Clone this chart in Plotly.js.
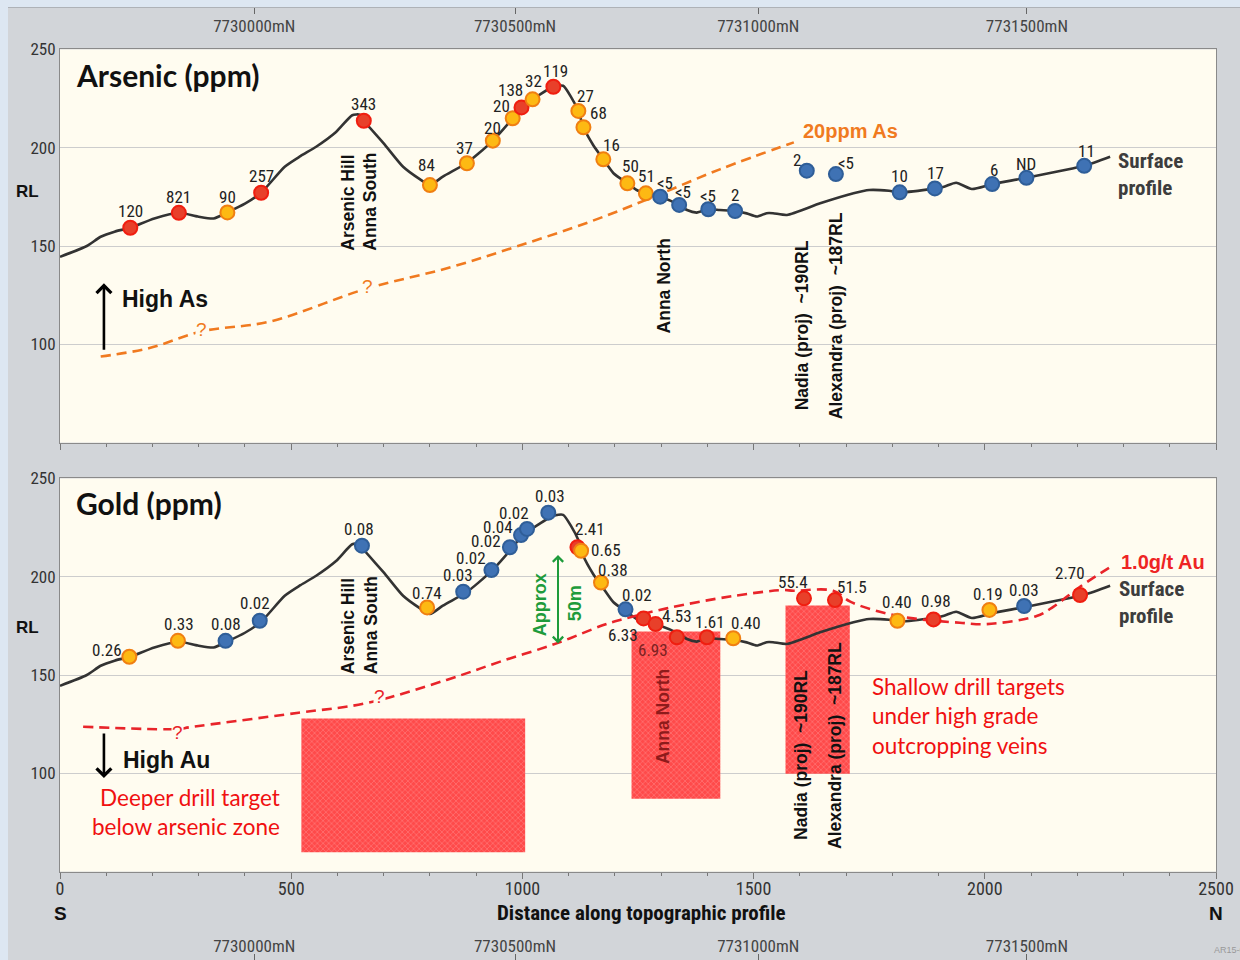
<!DOCTYPE html>
<html><head><meta charset="utf-8">
<script src="https://cdn.plot.ly/plotly-3.0.1.min.js"></script>
<style>
html,body{margin:0;padding:0;background:#dde7f2;width:1240px;height:960px;overflow:hidden}
#chart{position:absolute;left:8px;top:7px;width:1232px;height:953px}
</style></head><body><div id="chart"></div>
<script>
// ---- Surface topographic profile (distance along profile, RL) ----
const profileDist = [0, 58, 88, 118, 152, 204, 257, 298, 332, 362, 400, 435, 486, 520, 554, 597, 632, 648, 657, 700, 742, 778, 800, 828, 879, 905, 936, 979, 998, 1022, 1067, 1088, 1106, 1121, 1132, 1153, 1175, 1197, 1227, 1247, 1267, 1298, 1339, 1356, 1377, 1402, 1427, 1460, 1485, 1507, 1528, 1542, 1572, 1644, 1716, 1750, 1793, 1816, 1892, 1912, 1938, 1972, 2016, 2090, 2215, 2271];
const profileRL = [144.5, 150, 154.7, 157.3, 159.3, 164, 166.9, 165, 164, 167.1, 171.5, 177.1, 190.3, 195.7, 200.5, 208, 216.5, 216.8, 213.7, 202.2, 190.3, 184, 181, 185.3, 192.1, 197, 203.6, 215, 220.5, 224.6, 231, 231.5, 225.5, 218.7, 210.4, 201.4, 194.1, 187, 181.9, 178.5, 176.8, 175.1, 170.9, 168.3, 167, 168.7, 168.3, 167.8, 166.6, 165, 166.7, 166.7, 165.8, 171.7, 176.8, 178.5, 178.1, 177.3, 179.3, 180.2, 182.2, 179, 181.5, 184.7, 190.8, 195.4];

// ---- Arsenic samples ----
const asDist = [152, 257, 362, 435, 657, 800, 880, 936, 979, 998, 1022, 1067, 1121, 1132, 1175, 1227, 1267, 1298, 1339, 1402, 1460, 1615, 1678, 1816, 1892, 2016, 2090, 2215];
const asRL = [159.3, 166.9, 167.1, 177.1, 213.7, 181.0, 192.1, 203.6, 215.0, 220.5, 224.6, 231.0, 218.7, 210.4, 194.1, 181.9, 176.8, 175.1, 170.9, 168.7, 167.8, 188.3, 186.6, 177.3, 179.3, 181.5, 184.7, 190.8];
const asLabels = ['120','821','90','257','343','84','37','20','20','138','32','119','27','68','16','50','51','&lt;5','&lt;5','&lt;5','2','2','&lt;5','10','17','6','ND','11'];
const asClass = ['r','r','o','r','r','o','o','o','o','r','o','r','o','o','o','o','o','b','b','b','b','b','b','b','b','b','b','b'];

// ---- Gold samples ----
const auDist = [150, 255, 358, 432, 653, 794, 872, 933, 973, 997, 1010, 1056, 1119, 1127, 1170, 1223, 1262, 1288, 1334, 1399, 1456, 1609, 1676, 1811, 1889, 2010, 2085, 2206];
const auRL = [159.3, 167.4, 167.4, 177.6, 215.8, 184.4, 192.4, 203.4, 215.0, 221.2, 224.3, 232.6, 215.0, 213.2, 197.0, 183.4, 178.8, 175.9, 169.2, 169.2, 168.7, 189.0, 188.1, 177.6, 178.3, 183.1, 185.1, 190.7];
const auLabels = ['0.26','0.33','0.08','0.02','0.08','0.74','0.03','0.02','0.02','0.04','0.02','0.03','2.41','0.65','0.38','0.02','6.33','6.93','4.53','1.61','0.40','55.4','51.5','0.40','0.98','0.19','0.03','2.70'];
const auClass = ['o','o','b','b','b','o','b','b','b','b','b','b','r','o','o','b','r','r','r','r','o','r','r','o','r','o','b','r'];

// ---- Threshold boundaries ----
const asThreshDist = [88, 192, 307, 454, 664, 839, 988, 1148, 1269, 1427, 1587];
const asThreshRL = [93.8, 98, 106.6, 111.6, 128.4, 138.8, 149.8, 162.5, 173.6, 189, 202.7];
const auThreshDist = [50, 255, 280, 516, 665, 836, 952, 1074, 1175, 1211, 1312, 1456, 1564, 1586, 1672, 1709, 1773, 1845, 1946, 2004, 2112, 2148, 2206, 2278];
const auThreshRL = [123.7, 122.5, 123.4, 130.8, 135.8, 147.5, 156.8, 166.1, 175.4, 178, 183.9, 190.2, 193.2, 192.9, 192.9, 187.3, 182.2, 178.8, 176.6, 175.9, 180, 184.7, 194.9, 205.9];

// ---- Drill target zones ----
const targetStart = [522, 1236, 1569];
const targetEnd = [1006, 1428, 1708];
const targetTop = [127.9, 172.1, 185.4];
const targetBase = [59.8, 87.1, 99.8];

// ---- Axis ticks ----
const distTicks = [0, 500, 1000, 1500, 2000, 2500];
const northingDist = [420, 984, 1510, 2091];
const northingLabels = ['7730000mN', '7730500mN', '7731000mN', '7731500mN'];

// ---- label pixel offsets (styling) ----
const asLabelDx = [0,0,0,0,0,-3,-2,0,-11,-11,1,2,7,15,8,3,1,5,4,0,0,-10,10,0,1,2,0,2];
const asLabelDy = [-17,-16,-15,-17,-17,-20,-15,-13,-12,-17,-18,-16,-15,-14,-14,-17,-17,-14,-13,-13,-16,-11,-11,-16,-15,-14,-14,-15];
const auLabelDx = [-22,1,0,-5,-3,0,-5,-20,-24,-23,-13,2,13,25,12,11,-21,-3,0,3,13,-11,17,0,3,-1,0,-10];
const auLabelDy = [-7,-17,-17,-18,-17,-14,-17,-12,-6,-8,-16,-17,-18,-1,-13,-14,17,26,-21,-15,-15,-16,-13,-19,-18,-16,-16,-22];

const NARROW = '"Liberation Sans Narrow", "Arial Narrow", "Roboto Condensed", "Liberation Sans", sans-serif';
const ARIAL = '"Liberation Sans", Arial, sans-serif';
const CAL = 'Lato, "Open Sans", sans-serif';
const fillC = {r:'#e8402a', o:'#fdb913', b:'#3f72b4'};
const lineC = {r:'#f01e10', o:'#f07f12', b:'#2f5e98'};
const CREAM = '#fffcf0';

function samples(xs, ys, cls, xa, ya){
  return {type:'scatter', mode:'markers', x:xs, y:ys, xaxis:xa, yaxis:ya, cliponaxis:false, hoverinfo:'skip',
    marker:{size:14, color:cls.map(c=>fillC[c]), line:{width:2, color:cls.map(c=>lineC[c])}}};
}
function surface(xa, ya){
  return {type:'scatter', mode:'lines', x:profileDist, y:profileRL, xaxis:xa, yaxis:ya,
    line:{color:'#333', width:2.6, shape:'spline', smoothing:0.6}, hoverinfo:'skip'};
}

const traces = [
  {type:'bar', x:targetStart.map((s,i)=>(s+targetEnd[i])/2), width:targetStart.map((s,i)=>targetEnd[i]-s),
   y:targetTop.map((t,i)=>t-targetBase[i]), base:targetBase, xaxis:'x2', yaxis:'y2', hoverinfo:'skip',
   marker:{color:'#ff4a4a', line:{width:0}, pattern:{shape:'x', fillmode:'overlay', fgcolor:'rgba(255,200,200,0.75)', size:4, solidity:0.3}}},
  surface('x','y'),
  surface('x2','y2'),
  {type:'scatter', mode:'lines', x:asThreshDist, y:asThreshRL, xaxis:'x', yaxis:'y', hoverinfo:'skip',
   line:{color:'#f07a20', width:2.6, dash:'10px,6px', shape:'spline'}},
  {type:'scatter', mode:'lines', x:auThreshDist, y:auThreshRL, xaxis:'x2', yaxis:'y2', hoverinfo:'skip',
   line:{color:'#e8242a', width:2.6, dash:'10px,6px', shape:'spline'}},
  samples(asDist, asRL, asClass, 'x', 'y'),
  samples(auDist, auRL, auClass, 'x2', 'y2'),
  {type:'scatter', x:[], y:[], xaxis:'x3', yaxis:'y', hoverinfo:'skip'},
  {type:'scatter', x:[], y:[], xaxis:'x4', yaxis:'y2', hoverinfo:'skip'}
];

const ann = [];
function A(o){ ann.push(Object.assign({showarrow:false}, o)); }
// sample value labels
asLabels.forEach((t,i)=>A({xref:'x', yref:'y', x:asDist[i], y:asRL[i], text:t, xshift:asLabelDx[i], yshift:-asLabelDy[i],
  borderpad:0, font:{family:NARROW, size:17, color:'#222'}}));
auLabels.forEach((t,i)=>A({xref:'x2', yref:'y2', x:auDist[i], y:auRL[i], text:t, xshift:auLabelDx[i], yshift:-auLabelDy[i],
  borderpad:0, font:{family:NARROW, size:17, color: i===17 ? '#7a2222' : '#222'}}));
// titles
A({xref:'x', yref:'y', x:30, y:237, xanchor:'left', text:'<b>Arsenic (ppm)</b>', font:{family:CAL, size:30, color:'#111'}});
A({xref:'x2', yref:'y2', x:30, y:237.5, xanchor:'left', text:'<b>Gold (ppm)</b>', font:{family:CAL, size:30, color:'#111'}});
// RL labels
A({xref:'paper', yref:'y', x:-0.0277, xanchor:'center', y:177.5, text:'<b>RL</b>', font:{family:ARIAL, size:17, color:'#111'}});
A({xref:'paper', yref:'y2', x:-0.0277, xanchor:'center', y:174.4, text:'<b>RL</b>', font:{family:ARIAL, size:17, color:'#111'}});
// surface profile labels
A({xref:'x', yref:'y', x:2284, y:186.6, xanchor:'left', align:'left', text:'<b>Surface<br>profile</b>', font:{family:NARROW, size:21, color:'#3d3d3d'}});
A({xref:'x2', yref:'y2', x:2286, y:186.9, xanchor:'left', align:'left', text:'<b>Surface<br>profile</b>', font:{family:NARROW, size:21, color:'#3d3d3d'}});
// threshold labels
A({xref:'x', yref:'y', x:1603, y:208.5, xanchor:'left', text:'<b>20ppm As</b>', font:{family:ARIAL, size:20, color:'#f07a20'}});
A({xref:'x2', yref:'y2', x:2290, y:207.3, xanchor:'left', text:'<b>1.0g/t Au</b>', font:{family:ARIAL, size:20, color:'#ee2424'}});
// question marks
A({xref:'x', yref:'y', x:307, y:107.3, text:'?', bgcolor:CREAM, borderpad:0, font:{family:ARIAL, size:19, color:'#f07a20'}});
A({xref:'x', yref:'y', x:664, y:129.2, text:'?', bgcolor:CREAM, borderpad:0, font:{family:ARIAL, size:19, color:'#f07a20'}});
A({xref:'x2', yref:'y2', x:255, y:121, text:'?', bgcolor:CREAM, borderpad:0, font:{family:ARIAL, size:19, color:'#e8242a'}});
A({xref:'x2', yref:'y2', x:690, y:138.9, text:'?', bgcolor:CREAM, borderpad:0, font:{family:ARIAL, size:19, color:'#e8242a'}});
// vertical prospect labels
const VF = {family:ARIAL, size:17.5, color:'#111'};
A({xref:'x', yref:'y', x:647, y:172.6, textangle:-90, align:'left', text:'<b>Arsenic Hill<br>Anna South</b>', font:VF});
A({xref:'x', yref:'y', x:1306, y:129.9, textangle:-90, text:'<b>Anna North</b>', font:VF});
A({xref:'x', yref:'y', x:1604, y:109.5, textangle:-90, text:'<b>Nadia (proj) &nbsp;~190RL</b>', font:VF});
A({xref:'x', yref:'y', x:1677, y:114.5, textangle:-90, text:'<b>Alexandra (proj) &nbsp;~187RL</b>', font:VF});
A({xref:'x2', yref:'y2', x:647, y:175.4, textangle:-90, align:'left', text:'<b>Arsenic Hill<br>Anna South</b>', font:VF});
A({xref:'x2', yref:'y2', x:1304, y:129.1, textangle:-90, text:'<b>Anna North</b>', font:{family:ARIAL, size:17.5, color:'#8e1b1b'}});
A({xref:'x2', yref:'y2', x:1604, y:109.2, textangle:-90, text:'<b>Nadia (proj) &nbsp;~190RL</b>', font:VF});
A({xref:'x2', yref:'y2', x:1676, y:114.4, textangle:-90, text:'<b>Alexandra (proj) &nbsp;~187RL</b>', font:VF});
// High As / High Au arrows
A({xref:'x', yref:'y', axref:'x', ayref:'y', x:95, y:131, ax:95, ay:96.5, text:'', showarrow:true, arrowhead:4, arrowsize:1.1, arrowwidth:2.6, arrowcolor:'#000'});
A({xref:'x', yref:'y', x:130, y:123.1, xanchor:'left', text:'<b>High As</b>', font:{family:ARIAL, size:23, color:'#111'}});
A({xref:'x2', yref:'y2', axref:'x2', ayref:'y2', x:95, y:97.6, ax:95, ay:121, text:'', showarrow:true, arrowhead:4, arrowsize:1.1, arrowwidth:2.6, arrowcolor:'#000'});
A({xref:'x2', yref:'y2', x:132, y:106.9, xanchor:'left', text:'<b>High Au</b>', font:{family:ARIAL, size:23, color:'#111'}});
// Approx 50m
A({xref:'x2', yref:'y2', axref:'x2', ayref:'y2', x:1077, y:211, ax:1077, ay:165.3, text:'', showarrow:true, arrowside:'end+start', arrowhead:4, startarrowhead:4, arrowsize:1, startarrowsize:1, arrowwidth:2, arrowcolor:'#1e9b3b'});
A({xref:'x2', yref:'y2', x:1038, y:186, textangle:-90, text:'<b>Approx</b>', font:{family:ARIAL, size:18, color:'#1e9b3b'}});
A({xref:'x2', yref:'y2', x:1114, y:186.6, textangle:-90, text:'<b>50m</b>', font:{family:ARIAL, size:18, color:'#1e9b3b'}});
// drill target notes
A({xref:'x2', yref:'y2', x:480, y:80.1, xanchor:'right', align:'right', text:'Deeper drill target<br>below arsenic zone', font:{family:CAL, size:22.5, color:'#f01010'}});
A({xref:'x2', yref:'y2', x:1752, y:129.2, xanchor:'left', align:'left', text:'Shallow drill targets<br>under high grade<br>outcropping veins', font:{family:CAL, size:22.5, color:'#f01010'}});
// axis title and direction letters
A({xref:'paper', yref:'paper', x:0.503, y:0.0493, yanchor:'middle', text:'<b>Distance along topographic profile</b>', font:{family:NARROW, size:21, color:'#111'}});
A({xref:'x2', yref:'paper', x:0, y:0.0493, yanchor:'middle', text:'<b>S</b>', font:{family:ARIAL, size:19, color:'#111'}});
A({xref:'x2', yref:'paper', x:2500, y:0.0493, yanchor:'middle', text:'<b>N</b>', font:{family:ARIAL, size:19, color:'#111'}});
A({xref:'paper', yref:'paper', x:0.9965, y:0.003, xanchor:'left', yanchor:'bottom', text:'AR15-001', font:{family:ARIAL, size:9, color:'#999'}});

const baseX = {range:[0,2500], showgrid:false, zeroline:false, showline:true, mirror:true, linecolor:'#8a8a8a', linewidth:1,
  tickmode:'array', tickvals:distTicks, ticks:'outside', ticklen:6, tickcolor:'#777',
  minor:{ticks:'outside', dtick:100, ticklen:3, tickcolor:'#777'}};
const baseY = {range:[50,250], tickmode:'array', tickvals:[100,150,200,250], ticks:'', showgrid:true, gridcolor:'#cdcdcd',
  zeroline:false, showline:true, mirror:true, linecolor:'#8a8a8a', tickfont:{family:NARROW, size:17, color:'#333'}};
const northAx = {range:[0,2500], anchor:'free', tickmode:'array', tickvals:northingDist, ticktext:northingLabels,
  ticks:'outside', ticklen:6, tickcolor:'#666', showgrid:false, zeroline:false, showline:false,
  tickfont:{family:NARROW, size:17, color:'#444'}};

const layout = {
  width:1232, height:953, margin:{l:52, r:24, t:0, b:0},
  paper_bgcolor:'#d2d5d9', plot_bgcolor:CREAM, showlegend:false, barmode:'overlay',
  font:{family:NARROW, size:17, color:'#222'},
  xaxis:Object.assign({}, baseX, {anchor:'y', domain:[0,1], showticklabels:false}),
  yaxis:Object.assign({}, baseY, {anchor:'x', domain:[0.5429,0.9555]}),
  xaxis2:Object.assign({}, baseX, {anchor:'y2', domain:[0,1], showticklabels:true, ticklabelstandoff:-5, tickfont:{family:NARROW, size:18, color:'#333'}}),
  yaxis2:Object.assign({}, baseY, {anchor:'x2', domain:[0.0928,0.5053]}),
  xaxis3:Object.assign({}, northAx, {overlaying:'x', position:1, side:'bottom', ticklabelstandoff:-2}),
  xaxis4:Object.assign({}, northAx, {overlaying:'x2', position:0, side:'top', ticklabelstandoff:-5}),
  shapes:[{type:'line', xref:'paper', yref:'paper', x0:-0.05, x1:1.03, y0:1, y1:1, line:{color:'#8a8f96', width:1}}],
  annotations:ann
};
Plotly.newPlot('chart', traces, layout, {staticPlot:true, displayModeBar:false});
</script></body></html>
